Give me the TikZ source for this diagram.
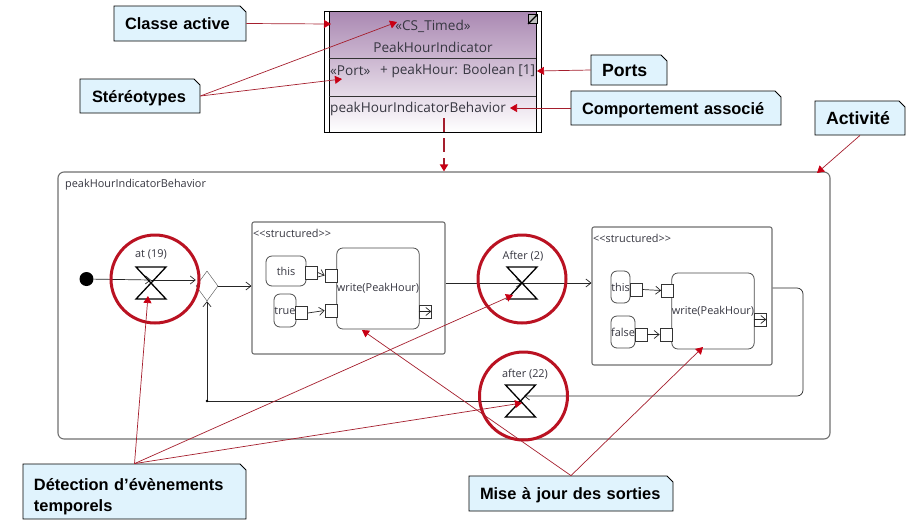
\documentclass[tikz,border=0pt]{standalone}
\usepackage{fontspec}
\setmainfont{Liberation Sans}
\newfontfamily\umlfont{Open Sans}
\usetikzlibrary{
  shapes.geometric, shapes.misc, arrows.meta, positioning, calc
}
\definecolor{notefill}{RGB}{224,243,253}
\definecolor{classpurple}{RGB}{170,136,178}
\definecolor{umltext}{RGB}{55,55,65}
\definecolor{umlgray}{RGB}{112,112,112}
\definecolor{timerred}{RGB}{186,18,34}
\definecolor{linkred}{RGB}{165,30,45}
\definecolor{tipred}{RGB}{200,0,20}
\tikzset{
  note/.style={
    chamfered rectangle, chamfered rectangle corners=north east,
    chamfered rectangle xsep=3pt, chamfered rectangle ysep=3pt,
    draw=black, fill=notefill, line width=0.8pt, inner sep=0pt, text depth=0pt,
    align=left, font=\fontsize{16.4}{21}\selectfont\bfseries
  },
  umltxt/.style={inner sep=0pt, text=umltext, font=\umlfont\fontsize{10.9}{13}\selectfont},
  classtxt/.style={inner sep=0pt, text=umltext, font=\umlfont\fontsize{13.6}{16}\selectfont},
  structbox/.style={
    rectangle, rounded corners=2pt, draw=umlgray, line width=1.1pt, fill=white, inner sep=0pt
  },
  actionbox/.style={
    rectangle, rounded corners=6pt, draw=black!70, line width=0.8pt, fill=white, inner sep=0pt,
    umltxt, align=center
  },
  pinbox/.style={rectangle, draw=black!80, line width=0.7pt, fill=white, inner sep=0pt, minimum width=12pt, minimum height=13pt},
  timer/.style={circle, draw=timerred, line width=3pt, minimum size=88pt, inner sep=0pt},
  hourglass/.pic={
    \draw[line width=1.3pt, black] (-15,-16) -- (15,-16) -- (-15,16) -- (15,16) -- cycle;
  },
  flow/.style={-{Straight Barb[length=5pt,width=8pt]}, line width=0.7pt, color=black!85},
  redlink/.style={-{Triangle[length=7pt,width=8pt,color=tipred]}, line width=0.7pt, color=linkred}
}
\begin{document}
\begin{tikzpicture}[x=1pt, y=-1pt]
  \useasboundingbox (0,0) rectangle (911,523);

  % ── Activity frame ───────────────────────────────────────────────
  \node[structbox, rounded corners=6pt, minimum width=772pt, minimum height=267pt] (activity)
    at (444, 305.5) {};
  \node[umltxt, anchor=west] (activitytitle) at (65, 185) {peakHourIndicatorBehavior};

  % ── Structured nodes ─────────────────────────────────────────────
  \node[structbox, minimum width=193pt, minimum height=132pt] (structone) at (348.5, 288) {};
  \node[structbox, minimum width=180pt, minimum height=138pt] (structtwo) at (682, 296) {};
  \node[umltxt, anchor=west] (structonetitle) at (253, 233) {<{}<structured>{}>};
  \node[umltxt, anchor=west] (structtwotitle) at (593, 238) {<{}<structured>{}>};

  % ── First write action ───────────────────────────────────────────
  \node[actionbox, minimum width=82pt, minimum height=81pt] (writeone) at (378, 288.5) {write(PeakHour)};
  \node[actionbox, minimum width=40pt, minimum height=30pt] (thisone) at (286, 271) {this};
  \node[actionbox, minimum width=22pt, minimum height=33pt] (trueone) at (285, 310.5) {true};
  \node[pinbox] (pinthis) at (311.5, 272.5) {};
  \node[pinbox] (pintrue) at (301.5, 313) {};
  \node[pinbox] (inthis) at (331, 275.5) {};
  \node[pinbox] (intrue) at (331, 310.5) {};
  \node[pinbox] (outone) at (425, 311.5) {};
  \draw[flow] (pinthis.east) -- (inthis.west);
  \draw[flow] (pintrue.east) -- (intrue.west);
  \draw[flow] (outone.west) -- (outone.east);

  % ── Second write action ──────────────────────────────────────────
  \node[actionbox, minimum width=82pt, minimum height=76pt] (writetwo) at (713, 311) {write(PeakHour)};
  \node[actionbox, text width=19pt, minimum height=32pt] (thistwo) at (620.5, 287) {this};
  \node[actionbox, text width=24pt, minimum height=32pt] (falsetwo) at (623, 332) {false};
  \node[pinbox] (pinthistwo) at (636, 289.5) {};
  \node[pinbox] (pinfalse) at (641, 334.5) {};
  \node[pinbox] (inthistwo) at (667.5, 290.5) {};
  \node[pinbox] (infalse) at (666, 334.5) {};
  \node[pinbox] (outtwo) at (760, 319.5) {};
  \draw[flow] (pinthistwo.east) -- (inthistwo.west);
  \draw[flow] (pinfalse.east) -- (infalse.west);
  \draw[flow] (outtwo.west) -- (outtwo.east);

  % ── Control flow ─────────────────────────────────────────────────
  \node[circle, fill=black, minimum size=14pt, inner sep=0pt] (initial) at (86.5, 279) {};
  \node[diamond, draw=black!70, fill=white, minimum width=22pt, minimum height=30pt, inner sep=0pt] (merge)
    at (207, 286) {};
  \coordinate (glassone) at (151, 283);
  \coordinate (crossone) at (151, 280);
  \coordinate (glasstwo) at (522, 283);
  \coordinate (glassthree) at (520.5, 401);
  \coordinate (loopout) at (803, 288);
  \coordinate (loopin) at (524, 396);
  \draw[flow] (initial) -- (crossone);
  \draw[flow] (crossone) -- (merge.west |- crossone);
  \draw[flow] (merge.east) -- (structone.west |- merge.east);
  \draw[flow] (structone.east |- glasstwo) -- (glasstwo);
  \draw[flow] (glasstwo) -- (structtwo.west |- glasstwo);
  \draw[flow, rounded corners=6pt] (structtwo.east |- loopout) -- (loopout) |- (loopin);
  \draw[flow] (glassthree) -| (merge.south);
  \node[circle, fill=black, minimum size=2.6pt, inner sep=0pt] (corner) at (merge.south |- glassthree) {};

  % ── Time events ──────────────────────────────────────────────────
  \node[timer] (timerone) at (155, 279) {};
  \node[timer] (timertwo) at (522, 279) {};
  \node[timer] (timerthree) at (523.5, 396) {};
  \pic at (glassone) {hourglass};
  \pic at (glasstwo) {hourglass};
  \pic at (glassthree) {hourglass};
  \node[umltxt] (labelone) at (151, 254) {at (19)};
  \node[umltxt] (labeltwo) at (523, 256) {After (2)};
  \node[umltxt] (labelthree) at (525, 374) {after (22)};

  % ── Active class ─────────────────────────────────────────────────
  \node[rectangle, draw=black, line width=0.9pt, fill=white, minimum width=217pt, minimum height=121pt] (peak)
    at (432.5, 71.5) {};
  \node[rectangle, draw=black, line width=0.9pt, top color=classpurple, bottom color=white,
        minimum width=207pt, minimum height=121pt] (peakbody) at (432.5, 71.5) {};
  \coordinate (sepone) at (0, 58);
  \coordinate (septwo) at (0, 96);
  \draw[black!80, line width=0.8pt] (peakbody.west |- sepone) -- (peakbody.east |- sepone);
  \draw[black!80, line width=0.8pt] (peakbody.west |- septwo) -- (peakbody.east |- septwo);
  \node[classtxt] (stereo) at (433, 26) {«CS\_Timed»};
  \node[classtxt] (classname) at (433, 47) {PeakHourIndicator};
  \node[classtxt, anchor=west] (portstereo) at (330, 71) {«Port»};
  \node[classtxt, anchor=west] (porthour) at (380, 71) {+ peakHour: Boolean [1]};
  \node[classtxt, anchor=west] (behavior) at (330, 109) {peakHourIndicatorBehavior};
  \node[rectangle, draw=black, line width=1pt, fill=black!25, minimum size=9pt, inner sep=0pt] (expand) at (533, 19) {};
  \draw[black, line width=1.2pt, -{Stealth[length=3pt]}] (expand.south west) -- (expand.north east);

  % ── Notes ────────────────────────────────────────────────────────
  \node[note, minimum width=132pt, minimum height=35pt, text width=110pt] (classe) at (180, 23.5) {Classe active};
  \node[note, minimum width=120pt, minimum height=34pt, text width=96pt] (stereotypes) at (140, 96) {Stéréotypes};
  \node[note, minimum width=76pt, minimum height=30pt, text width=54pt] (ports) at (629, 70) {\fontsize{17.7}{21}\selectfont Ports};
  \node[note, minimum width=210pt, minimum height=34pt, text width=188pt] (comportement) at (676, 108) {Comportement associé};
  \node[note, minimum width=90pt, minimum height=34pt, text width=68pt] (activite) at (860, 118) {\fontsize{17.7}{21}\selectfont Activité};
  \node[note, minimum width=223pt, minimum height=55pt, text width=201pt, text depth=21pt] (detection)
    at (134.5, 491.5) {\rule{0pt}{18pt}Détection d’évènements\\temporels};
  \node[note, minimum width=204pt, minimum height=35pt, text width=182pt] (miseajour) at (571, 493.5) {Mise à jour des sorties};

  % ── Connections ──────────────────────────────────────────────────
  \coordinate (tipclasse) at (331, 24);
  \coordinate (tipstereo) at (397, 22);
  \coordinate (tipport) at (342, 79);
  \coordinate (tipports) at (537, 71);
  \coordinate (tipbehavior) at (510, 108);
  \coordinate (dashstart) at (444, 118);
  \coordinate (tipactivite) at (817, 173);
  \coordinate (tipone) at (148, 296);
  \coordinate (tiptwo) at (513, 295);
  \coordinate (tipthree) at (522, 403);
  \coordinate (tipwriteone) at (362, 330);
  \coordinate (tipwritetwo) at (703, 347);

  \draw[redlink] (classe.east) -- (tipclasse);
  \draw[redlink] (stereotypes.east) -- (tipstereo);
  \draw[redlink] (stereotypes.east) -- (tipport);
  \draw[redlink] (ports.west) -- (tipports);
  \draw[redlink] (comportement.west) -- (tipbehavior);
  \draw[redlink] (activite.south) -- (tipactivite);
  \draw[redlink, line width=1.8pt, dash pattern=on 14pt off 6pt] (dashstart) -- (activity.north -| dashstart);
  \draw[redlink] (detection.north) -- (tipone);
  \draw[redlink] (detection.north) -- (tiptwo);
  \draw[redlink] (detection.north) -- (tipthree);
  \draw[redlink] (miseajour.north) -- (tipwriteone);
  \draw[redlink] (miseajour.north) -- (tipwritetwo);
\end{tikzpicture}
\end{document}
